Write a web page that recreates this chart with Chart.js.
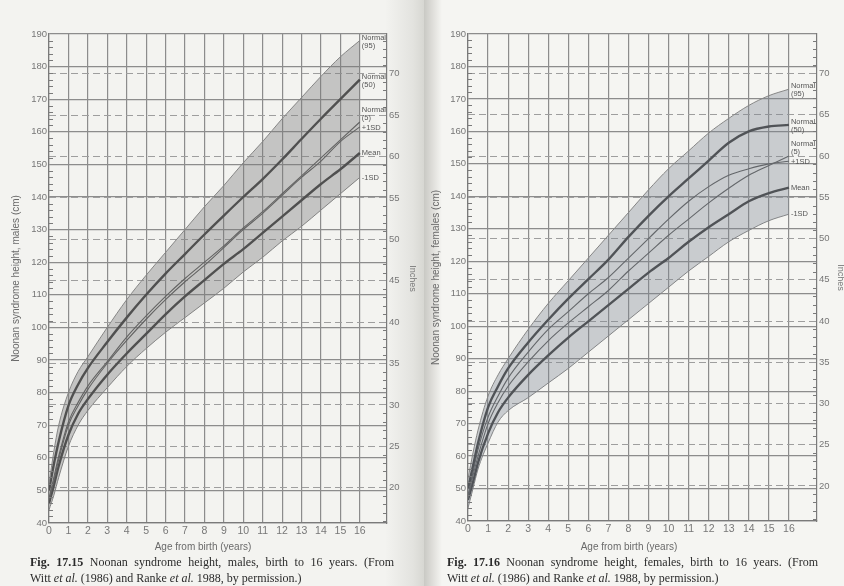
<!DOCTYPE html>
<html>
<head>
<meta charset="utf-8">
<script src="https://cdn.jsdelivr.net/npm/chart.js@4.4.1/dist/chart.umd.min.js"></script>
<style>
  body { margin: 0; width: 844px; height: 586px; overflow: hidden; position: relative; background: #f3f3f0; font-family: Arial, "Liberation Sans", sans-serif; }
  #gutter { position: absolute; left: 385px; top: 0; width: 40px; height: 586px; background: linear-gradient(to right, #f3f3f0, #e3e3df 70%, #d6d6d1); }
  #rpage { position: absolute; left: 424px; top: 0; width: 420px; height: 586px; background: linear-gradient(to right, #c9c9c4, #dddcd8 8px, #f5f5f2 18px); }
  canvas { position: absolute; top: 0; }
  #boys { left: 0; }
  #girls { left: 424px; }
  .xt { position: absolute; top: 541px; font-size: 10px; color: #6a6a6a; transform: translateX(-50%); white-space: nowrap; }
  .cap { position: absolute; top: 554px; font-family: "Liberation Serif", "DejaVu Serif", serif; font-size: 12px; line-height: 16px; color: #2b2b2b; }
  .cap .l1 { text-align: justify; text-align-last: justify; white-space: nowrap; }
</style>
</head>
<body>
<div id="gutter"></div>
<div id="rpage"></div>
<canvas id="boys" width="420" height="556"></canvas>
<canvas id="girls" width="424" height="556"></canvas>
<div class="xt" style="left:203px">Age from birth (years)</div>
<div class="xt" style="left:629px">Age from birth (years)</div>
<div class="cap" style="left:30px;width:364px">
  <div class="l1"><b>Fig. 17.15</b> Noonan syndrome height, males, birth to 16 years. (From</div>
  <div>Witt <i>et al.</i> (1986) and Ranke <i>et al.</i> 1988, by permission.)</div>
</div>
<div class="cap" style="left:447px;width:371px">
  <div class="l1"><b>Fig. 17.16</b> Noonan syndrome height, females, birth to 16 years. (From</div>
  <div>Witt <i>et al.</i> (1986) and Ranke <i>et al.</i> 1988, by permission.)</div>
</div>
<script>
// ages in years
const ages = [0, 0.25, 0.5, 1, 1.5, 2, 3, 4, 5, 6, 7, 8, 9, 10, 11, 12, 13, 14, 15, 16];

// males, height in cm
const boysNormal95 = [52, 62, 70, 80, 86.5, 91, 100, 108.5, 116, 123, 130, 137, 143.5, 150.5, 157, 164, 170.5, 177, 183, 188];
const boysNormal50 = [50, 58, 65, 76, 82.5, 87.5, 95.5, 103, 110, 116.5, 122.5, 128.5, 134.3, 140, 145.5, 151.5, 157.8, 164, 170, 176];
const boysNormal5  = [47.5, 54, 60.5, 71, 77, 82, 89.5, 97, 103.5, 109.5, 115, 120, 125, 130.5, 135.5, 141, 146.5, 152, 157.5, 163];
const boysPlus1SD  = [47, 53, 59.5, 70, 76, 81, 89, 96, 102.5, 108.5, 114, 119, 124.5, 130, 135, 140.5, 146, 151, 157, 161.5];
const boysMean     = [46, 51.5, 57.5, 67, 73.5, 78, 85.5, 92, 98, 104, 109.5, 114.5, 119.5, 124, 129, 134, 139, 144, 148.5, 153.5];
const boysMinus1SD = [44, 48.5, 54, 63.5, 70, 74.5, 81.5, 88, 93.5, 98.5, 103, 107.5, 112, 117, 121.5, 126.5, 131, 136, 141, 146];

// females, height in cm
const girlsNormal95 = [53, 61, 68, 78.5, 85, 90, 99, 107, 114, 121, 128, 135, 142, 148.5, 154, 159.5, 164, 168, 171, 173];
const girlsNormal50 = [50, 57, 64, 75, 81.5, 87, 95, 102, 108.5, 114.5, 120.5, 127.5, 134, 140, 145.5, 151, 156.5, 160, 161.5, 162];
const girlsNormal5  = [47, 54, 60, 70, 76.5, 81.5, 89, 95.5, 101, 106, 111, 117, 122.5, 128, 133, 138, 142.5, 146.5, 149.5, 152.4];
const girlsPlus1SD  = [48, 55, 62, 72, 78.5, 84, 92, 99, 104.5, 110, 115, 121, 127, 133, 138.5, 143, 146.5, 148.5, 150, 150.8];
const girlsMean     = [46.5, 52, 58, 67, 73.5, 78, 85, 91, 96.5, 101.5, 106.5, 111.5, 116.5, 121, 126, 130.5, 134.5, 138.5, 141, 142.7];
const girlsMinus1SD = [44, 50, 56, 64, 70.5, 74, 78, 82.5, 87, 92, 97, 102, 107, 112, 117, 121.5, 126, 129.5, 132.5, 134.5];

const yearTicks = [0, 1, 2, 3, 4, 5, 6, 7, 8, 9, 10, 11, 12, 13, 14, 15, 16];
const inchTicks = [20, 25, 30, 35, 40, 45, 50, 55, 60, 65, 70];
const curveNames = [['Normal', '(95)'], ['Normal', '(50)'], ['Normal', '(5)'], ['+1SD'], ['Mean'], ['-1SD']];

const lineStyles = [
  { color: '#858585', width: 1 },
  { color: '#383838', width: 2.4 },
  { color: '#555555', width: 1.1 },
  { color: '#555555', width: 1.1 },
  { color: '#383838', width: 2.4 },
  { color: '#858585', width: 1 }
];
const labelShift = [-3, -3, -12, 1, 0, 0];

// inward minor ticks on both height axes + curve names at the right end
const decorPlugin = {
  id: 'decor',
  afterDatasetsDraw(chart) {
    const ctx = chart.ctx;
    const ys = chart.scales.y, y2 = chart.scales.y2, xs = chart.scales.x;
    const a = chart.chartArea;
    ctx.save();
    ctx.strokeStyle = '#7a7a7a';
    ctx.lineWidth = 1;
    ctx.beginPath();
    for (let v = 42; v < 190; v += 2) {
      if (v % 10 === 0) continue;
      const py = Math.round(ys.getPixelForValue(v)) + 0.5;
      ctx.moveTo(a.left, py); ctx.lineTo(a.left + 4, py);
    }
    for (let v = 16; v <= 74; v++) {
      if (v % 5 === 0) continue;
      const py = Math.round(y2.getPixelForValue(v)) + 0.5;
      ctx.moveTo(a.right, py); ctx.lineTo(a.right - 4, py);
    }
    ctx.stroke();

    ctx.fillStyle = '#555';
    ctx.font = '7.5px Arial';
    ctx.textBaseline = 'middle';
    const px = xs.getPixelForValue(16) + 2;
    chart.data.datasets.forEach((ds, i) => {
      const last = ds.data[ds.data.length - 1];
      const py = ys.getPixelForValue(last.y) + labelShift[i];
      curveNames[i].forEach((t, k) => ctx.fillText(t, px, py + k * 8));
    });
    ctx.restore();
  }
};

function makeChart(id, series, o) {
  const datasets = series.map((vals, i) => ({
    label: curveNames[i].join(' '),
    data: ages.map((a, k) => ({ x: a, y: vals[k] })),
    borderColor: lineStyles[i].color,
    borderWidth: lineStyles[i].width,
    pointRadius: 0,
    cubicInterpolationMode: 'monotone',
    fill: i === 0 ? 5 : false,
    backgroundColor: o.band
  }));
  return new Chart(document.getElementById(id), {
    type: 'line',
    data: { datasets },
    options: {
      responsive: false,
      devicePixelRatio: 1,
      animation: false,
      layout: { padding: { top: 34, left: 0, right: 0, bottom: 0 } },
      plugins: { legend: { display: false }, tooltip: { enabled: false } },
      scales: {
        x: {
          type: 'linear', min: 0, max: 17.4,
          afterBuildTicks: s => { s.ticks = yearTicks.map(v => ({ value: v })); },
          afterFit: s => { s.height = o.xh; },
          ticks: { color: '#777', font: { size: 10.5 }, padding: 2, maxRotation: 0, autoSkip: false },
          grid: { color: '#8c8c8c', lineWidth: 1.2, drawTicks: false },
          border: { display: true, color: '#7a7a7a', width: 1.2 }
        },
        y: {
          min: 40, max: 190,
          afterFit: s => { s.width = o.yw; },
          ticks: { stepSize: 10, color: '#777', font: { size: 9.5 }, padding: 2 },
          grid: { color: '#8c8c8c', lineWidth: 1.2, drawTicks: false },
          border: { display: true, color: '#7a7a7a', width: 1.2 },
          title: { display: true, text: o.title, color: '#6a6a6a', font: { size: 10 }, padding: { top: o.tp, bottom: 0 } }
        },
        y2: {
          position: 'right',
          min: 40 / 2.54, max: 190 / 2.54,
          afterBuildTicks: s => { s.ticks = inchTicks.map(v => ({ value: v })); },
          afterFit: s => { s.width = o.y2w; },
          ticks: { color: '#777', font: { size: 9.5 }, padding: 2 },
          grid: { color: '#9e9e9e', lineWidth: 1, drawTicks: false },
          border: { display: true, color: '#7a7a7a', width: 1.2, dash: [7, 4] },
          title: { display: true, text: 'Inches', color: '#777', font: { size: 9 }, padding: 2 }
        }
      }
    },
    plugins: [decorPlugin]
  });
}

makeChart('boys',
  [boysNormal95, boysNormal50, boysNormal5, boysPlus1SD, boysMean, boysMinus1SD],
  { title: 'Noonan syndrome height, males (cm)', band: 'rgba(120,120,120,0.38)', yw: 49, y2w: 33, xh: 33, tp: 10 });

makeChart('girls',
  [girlsNormal95, girlsNormal50, girlsNormal5, girlsPlus1SD, girlsMean, girlsMinus1SD],
  { title: 'Noonan syndrome height, females (cm)', band: 'rgba(125,132,145,0.36)', yw: 44, y2w: 31, xh: 35, tp: 6 });
</script>
</body>
</html>
